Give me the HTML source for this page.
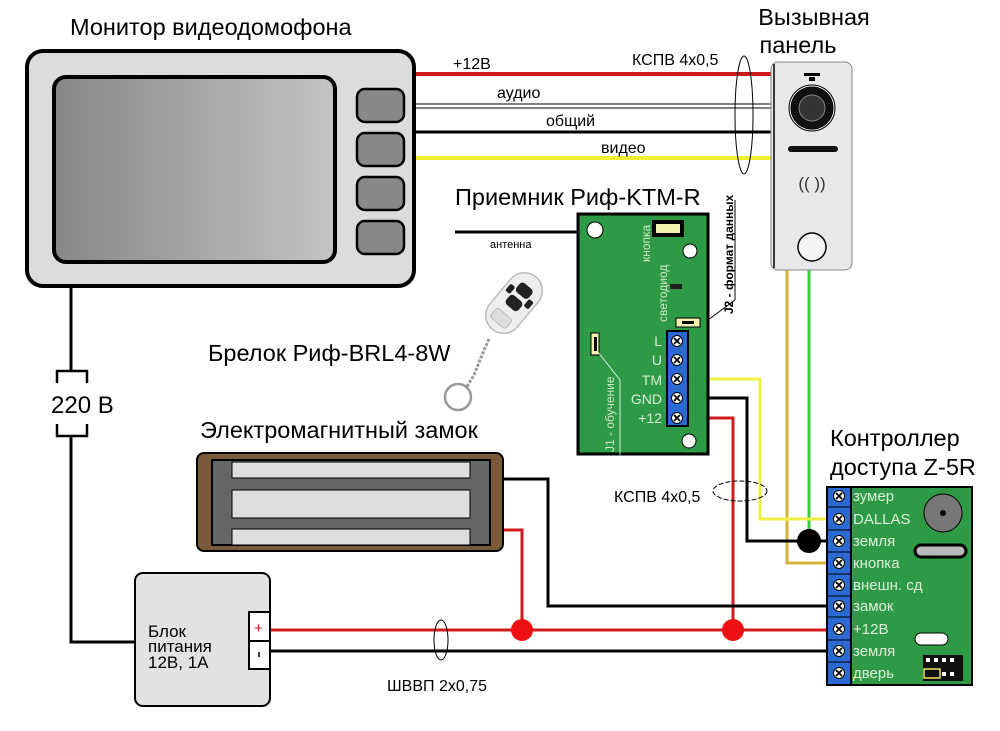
<!DOCTYPE html>
<html><head><meta charset="utf-8"><style>
html,body{margin:0;padding:0;background:#fff}
svg{display:block}
text{font-family:"Liberation Sans","DejaVu Sans",sans-serif}
</style></head><body>
<svg width="1000" height="731" viewBox="0 0 1000 731" xmlns="http://www.w3.org/2000/svg">
<defs>
<linearGradient id="scr" x1="0" x2="1" y1="0" y2="0"><stop offset="0" stop-color="#878787"/><stop offset="1" stop-color="#c4c4c4"/></linearGradient>
<g id="scr1"><circle r="5.5" fill="#fff" stroke="#000" stroke-width="1"/><path d="M-3,-3L3,3M3,-3L-3,3" stroke="#000" stroke-width="1.8"/></g>
</defs>
<!-- titles -->
<text x="70" y="35" font-size="23.5">Монитор видеодомофона</text>
<text x="814" y="25" font-size="23.5" text-anchor="middle">Вызывная</text>
<text x="798" y="53" font-size="23.5" text-anchor="middle">панель</text>
<text x="455" y="205" font-size="23.5">Приемник Риф-KTM-R</text>
<text x="208" y="361" font-size="23.5">Брелок Риф-BRL4-8W</text>
<text x="200" y="438" font-size="23.5">Электромагнитный замок</text>
<text x="830" y="446" font-size="23.5">Контроллер</text>
<text x="830" y="475" font-size="23.5">доступа Z-5R</text>

<!-- top wires -->
<line x1="415" y1="74" x2="775" y2="74" stroke="#cc1c1c" stroke-width="4"/>
<line x1="415" y1="104" x2="775" y2="104" stroke="#000" stroke-width="1"/>
<line x1="415" y1="108" x2="775" y2="108" stroke="#000" stroke-width="1"/>
<line x1="415" y1="132" x2="775" y2="132" stroke="#000" stroke-width="3"/>
<line x1="415" y1="158" x2="775" y2="158" stroke="#f0f030" stroke-width="4"/>
<text x="453" y="69" font-size="16">+12В</text>
<text x="497" y="98" font-size="16">аудио</text>
<text x="546" y="126" font-size="16">общий</text>
<text x="601" y="153" font-size="16">видео</text>
<text x="632" y="65" font-size="16">КСПВ 4х0,5</text>
<ellipse cx="744" cy="115" rx="9" ry="59" fill="none" stroke="#000" stroke-width="1"/>

<!-- monitor -->
<rect x="27" y="51" width="387" height="235" rx="16" fill="#dcdcdc" stroke="#000" stroke-width="4"/>
<rect x="54" y="77" width="281" height="185" rx="12" fill="url(#scr)" stroke="#000" stroke-width="4"/>
<rect x="357" y="89" width="47" height="33" rx="8" fill="#888" stroke="#000" stroke-width="2.5"/>
<rect x="357" y="133" width="47" height="33" rx="8" fill="#888" stroke="#000" stroke-width="2.5"/>
<rect x="357" y="177" width="47" height="33" rx="8" fill="#888" stroke="#000" stroke-width="2.5"/>
<rect x="357" y="221" width="47" height="33" rx="8" fill="#888" stroke="#000" stroke-width="2.5"/>

<!-- 220 line -->
<line x1="71" y1="288" x2="71" y2="370" stroke="#000" stroke-width="3"/>
<polyline points="57,383 57,371 87,371 87,383" fill="none" stroke="#000" stroke-width="2.5"/>
<text x="51" y="413" font-size="24">220 В</text>
<polyline points="57,424 57,436 87,436 87,424" fill="none" stroke="#000" stroke-width="2.5"/>
<polyline points="71,436 71,642 134,642" fill="none" stroke="#000" stroke-width="3"/>

<!-- panel wires -->
<polyline points="787,270 787,563 830,563" fill="none" stroke="#d8b33a" stroke-width="3"/>
<polyline points="809,270 809,541" fill="none" stroke="#3ccc3c" stroke-width="3"/>
<polyline points="687,379 760,379 760,519 830,519" fill="none" stroke="#f0f040" stroke-width="3"/>
<polyline points="687,398 747,398 747,541 830,541" fill="none" stroke="#000" stroke-width="3"/>
<polyline points="687,418 733,418 733,630" fill="none" stroke="#cc1c1c" stroke-width="3"/>
<circle cx="809" cy="541" r="12" fill="#000"/>
<ellipse cx="740" cy="491" rx="27" ry="10" fill="none" stroke="#000" stroke-width="1" stroke-dasharray="5,2"/>
<text x="614" y="502" font-size="16">КСПВ 4х0,5</text>

<!-- panel -->
<rect x="771" y="62" width="81" height="208" rx="7" fill="#e8e8e8" stroke="#888" stroke-width="1"/>
<line x1="774" y1="64" x2="774" y2="268" stroke="#000" stroke-width="1.5"/>
<rect x="804" y="73" width="16" height="3" fill="#000"/>
<rect x="809" y="77" width="6" height="4" fill="#000"/>
<circle cx="812" cy="108" r="21" fill="#111" stroke="#000" stroke-width="1"/>
<circle cx="812" cy="108" r="23" fill="none" stroke="#000" stroke-width="1"/>
<circle cx="812" cy="108" r="13" fill="#333" stroke="#888" stroke-width="1"/>
<rect x="788" y="146" width="50" height="6" rx="3" fill="#111"/>
<text x="812" y="189" font-size="17" text-anchor="middle" fill="#333">(( ))</text>
<circle cx="812" cy="247" r="14" fill="#f4f4f4" stroke="#000" stroke-width="1.5"/>

<!-- receiver -->
<line x1="455" y1="232" x2="594" y2="232" stroke="#000" stroke-width="3"/>
<text x="490" y="248" font-size="11">антенна</text>
<rect x="578" y="214" width="130" height="240" fill="#2f9a46" stroke="#000" stroke-width="3"/>
<circle cx="595" cy="230" r="8" fill="#fff" stroke="#000" stroke-width="1"/>
<circle cx="690" cy="251" r="7" fill="#fff" stroke="#000" stroke-width="1"/>
<circle cx="689" cy="441" r="7" fill="#fff" stroke="#000" stroke-width="1"/>
<rect x="652" y="220" width="32" height="17" fill="#000"/>
<rect x="656" y="224" width="24" height="9" fill="#f4f0b0"/>
<rect x="670" y="284" width="12" height="5" fill="#222"/>
<rect x="676" y="318" width="24" height="9" fill="#f4f0b0" stroke="#000"/>
<rect x="682" y="321" width="12" height="3" fill="#000"/>
<rect x="591" y="333" width="8" height="22" fill="#f4f0b0" stroke="#000"/>
<rect x="594" y="337" width="3" height="14" fill="#000"/>
<polyline points="598,352 620,380 620,455" fill="none" stroke="#fff" stroke-width="0.8"/>
<line x1="708" y1="320" x2="735" y2="300" stroke="#000" stroke-width="1"/>
<line x1="735" y1="300" x2="735" y2="200" stroke="#000" stroke-width="1"/>
<text transform="translate(650,262) rotate(-90)" font-size="12" fill="#cfe8c0">кнопка</text>
<text transform="translate(667,322) rotate(-90)" font-size="12" fill="#cfe8c0">светодиод</text>
<text transform="translate(614,452) rotate(-90)" font-size="12" fill="#cfe8c0">J1 - обучение</text>
<text transform="translate(733,314) rotate(-90)" font-size="12" font-weight="bold">J2 - формат данных</text>
<rect x="667" y="331" width="21" height="95" fill="#2a6ad0" stroke="#000" stroke-width="2"/>
<g font-size="14" fill="#d8ecd8" text-anchor="end">
<text x="662" y="346">L</text><text x="662" y="365">U</text><text x="662" y="385">TM</text><text x="662" y="404">GND</text><text x="662" y="423">+12</text>
</g>
<use href="#scr1" x="677" y="341"/><use href="#scr1" x="677" y="360"/><use href="#scr1" x="677" y="379"/><use href="#scr1" x="677" y="398"/><use href="#scr1" x="677" y="418"/>

<!-- keyfob -->
<path d="M489,339 L482,355 L474,375 L466,388" fill="none" stroke="#999" stroke-width="3" stroke-dasharray="3,1.5"/>
<circle cx="458" cy="397" r="13" fill="none" stroke="#999" stroke-width="2.5"/>
<g transform="translate(514,303) rotate(40)">
<rect x="-18" y="-34" width="36" height="68" rx="18" fill="#eeeeee" stroke="#bbb" stroke-width="1.5"/>
<rect x="-8" y="-22" width="16" height="12" rx="4" fill="#222"/>
<rect x="-8" y="-6" width="16" height="12" rx="4" fill="#222"/>
<rect x="-15" y="-13" width="6" height="9" rx="2" fill="#222"/>
<rect x="9" y="-13" width="6" height="9" rx="2" fill="#222"/>
<rect x="-10" y="14" width="20" height="12" rx="3" fill="#ddd" stroke="#bbb"/>
</g>

<!-- lock -->
<polyline points="503,479 548,479 548,606 830,606" fill="none" stroke="#000" stroke-width="3"/>
<polyline points="503,530 522,530 522,630" fill="none" stroke="#cc1c1c" stroke-width="3"/>
<rect x="197" y="453" width="306" height="98" rx="7" fill="#7a5a38" stroke="#000" stroke-width="2"/>
<rect x="212" y="460" width="278" height="85" fill="#666" stroke="#000" stroke-width="2"/>
<rect x="232" y="462" width="238" height="16" fill="#ddd" stroke="#000" stroke-width="1"/>
<rect x="232" y="490" width="238" height="28" fill="#ddd" stroke="#000" stroke-width="1"/>
<rect x="232" y="529" width="238" height="16" fill="#ddd" stroke="#000" stroke-width="1"/>

<!-- psu lines -->
<line x1="270" y1="630" x2="830" y2="630" stroke="#cc1c1c" stroke-width="3"/>
<line x1="270" y1="651" x2="830" y2="651" stroke="#000" stroke-width="3"/>
<circle cx="522" cy="630" r="11" fill="#ee1010"/>
<circle cx="733" cy="630" r="11" fill="#ee1010"/>
<ellipse cx="441" cy="640" rx="7" ry="20" fill="none" stroke="#000" stroke-width="1"/>
<text x="387" y="691" font-size="16">ШВВП 2х0,75</text>
<rect x="135" y="573" width="135" height="133" rx="8" fill="#e2e2e2" stroke="#000" stroke-width="2"/>
<rect x="249" y="612" width="21" height="29" fill="#fff" stroke="#000" stroke-width="2"/>
<rect x="249" y="641" width="21" height="28" fill="#fff" stroke="#000" stroke-width="2"/>
<text x="254" y="633" font-size="15" fill="#cc1c1c">+</text>
<line x1="259" y1="652" x2="259" y2="657" stroke="#000" stroke-width="1.5"/>
<g font-size="17"><text x="148" y="637">Блок</text><text x="148" y="652">питания</text><text x="148" y="668">12В, 1А</text></g>

<!-- controller -->
<rect x="827" y="487" width="145" height="198" fill="#2f9a46" stroke="#000" stroke-width="2"/>
<rect x="827" y="487" width="24" height="198" fill="#2a6ad0" stroke="#000" stroke-width="2"/>
<g stroke="#000" stroke-width="1">
<line x1="827" y1="507" x2="851" y2="507"/><line x1="827" y1="530" x2="851" y2="530"/><line x1="827" y1="552" x2="851" y2="552"/><line x1="827" y1="574" x2="851" y2="574"/><line x1="827" y1="596" x2="851" y2="596"/><line x1="827" y1="617" x2="851" y2="617"/><line x1="827" y1="640" x2="851" y2="640"/><line x1="827" y1="662" x2="851" y2="662"/>
</g>
<use href="#scr1" x="839" y="496"/><use href="#scr1" x="839" y="519"/><use href="#scr1" x="839" y="541"/><use href="#scr1" x="839" y="563"/><use href="#scr1" x="839" y="585"/><use href="#scr1" x="839" y="606"/><use href="#scr1" x="839" y="629"/><use href="#scr1" x="839" y="651"/><use href="#scr1" x="839" y="673"/>
<g font-size="15" fill="#dcefd8">
<text x="853" y="501">зумер</text><text x="853" y="524">DALLAS</text><text x="853" y="546">земля</text><text x="853" y="568">кнопка</text><text x="853" y="590">внешн. сд</text><text x="853" y="611">замок</text><text x="853" y="634">+12В</text><text x="853" y="656">земля</text><text x="853" y="678">дверь</text>
</g>
<circle cx="943" cy="513" r="19" fill="#777" stroke="#000" stroke-width="1"/>
<circle cx="943" cy="513" r="3" fill="#000"/>
<rect x="915" y="545" width="51" height="12" rx="6" fill="#bbb" stroke="#000" stroke-width="3"/>
<rect x="915" y="633" width="33" height="12" rx="6" fill="#fff" stroke="#000" stroke-width="1"/>
<rect x="923" y="655" width="40" height="26" fill="#111"/>
<g fill="#fff"><rect x="926" y="658" width="4" height="4"/><rect x="934" y="658" width="4" height="4"/><rect x="942" y="658" width="4" height="4"/><rect x="950" y="658" width="4" height="4"/><rect x="942" y="672" width="4" height="4"/><rect x="950" y="672" width="4" height="4"/></g>
<rect x="924" y="669" width="16" height="9" fill="none" stroke="#f0e060" stroke-width="1.5"/>
</svg>
</body></html>
